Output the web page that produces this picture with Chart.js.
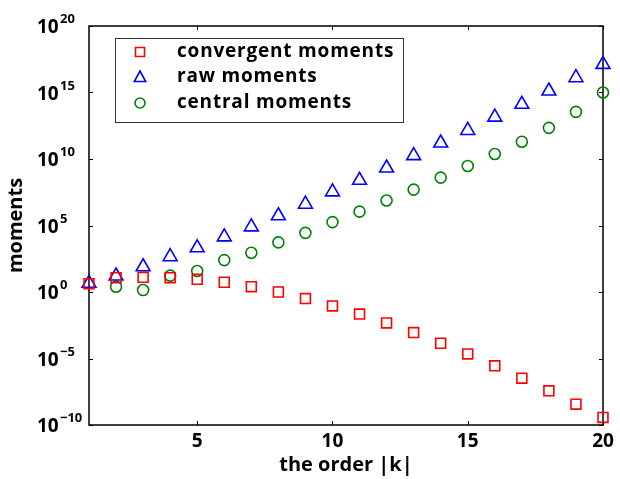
<!DOCTYPE html>
<html>
<head>
<meta charset="utf-8">
<script src="https://cdn.jsdelivr.net/npm/chart.js@4.4.1/dist/chart.umd.min.js"></script>
<style>
  html, body { margin: 0; padding: 0; background: #fff; }
  #wrap { width: 620px; height: 479px; }
</style>
</head>
<body>
<div id="wrap"><canvas id="moments-chart" width="620" height="479"></canvas></div>
<script>
// Moments versus order |k|
const order = [1, 2, 3, 4, 5, 6, 7, 8, 9, 10, 11, 12, 13, 14, 15, 16, 17, 18, 19, 20];
const convergentMoments = [4.2, 1.2e1, 1.26e1, 1.2e1, 8.9, 5.4, 2.5, 1.0, 3.2e-1, 8.9e-2,
	2.2e-2, 4.7e-3, 8.9e-4, 1.4e-4, 2.2e-5, 2.8e-6, 3.3e-7, 3.7e-8, 3.7e-9, 3.7e-10];
const rawMoments = [4.5, 1.6e1, 7.9e1, 4.5e2, 2.1e3, 1.4e4, 7.9e4, 5.4e5, 4.0e6, 3.4e7,
	2.5e8, 2.1e9, 1.8e10, 1.6e11, 1.4e12, 1.4e13, 1.3e14, 1.3e15, 1.3e16, 1.3e17];
const centralMoments = [null, 2.5, 1.4, 1.7e1, 3.8e1, 2.5e2, 8.9e2, 5.4e3, 2.8e4, 1.8e5,
	1.1e6, 7.6e6, 5.0e7, 4.0e8, 3.0e9, 2.4e10, 2.0e11, 2.2e12, 3.5e13, 1.0e15];
const seriesLabels = ["convergent moments", "raw moments", "central moments"];
const xTicks = [5, 10, 15, 20];
const yExponents = [-10, -5, 0, 5, 10, 15, 20];

const fontFamily = "'Open Sans', 'DejaVu Sans', sans-serif";
const seriesColors = ["#ff0000", "#0000ff", "#008000"];
const seriesStyles = ["rect", "triangle", "circle"];
const seriesRadius = [7, 8, 5.5];

const toPoints = function(values) {
	return order.map(function(k, i) { return { x: k, y: values[i] }; });
};

const makeDataset = function(i, values) {
	return {
		label: seriesLabels[i],
		data: toPoints(values),
		showLine: false,
		pointStyle: seriesStyles[i],
		pointRadius: seriesRadius[i],
		pointHoverRadius: seriesRadius[i],
		pointBorderWidth: 1.6,
		pointBorderColor: seriesColors[i],
		pointBackgroundColor: "rgba(0,0,0,0)",
		clip: false
	};
};

// frame with inward ticks on all four sides
const framePlugin = {
	id: "frame",
	beforeDatasetsDraw: function(chart) {
		const ctx = chart.ctx;
		const a = chart.chartArea;
		const xs = chart.scales.x;
		const ys = chart.scales.y;
		ctx.save();
		ctx.strokeStyle = "#000";
		ctx.lineWidth = 1;
		xTicks.forEach(function(t) {
			const px = Math.round(xs.getPixelForValue(t)) + 0.5;
			ctx.beginPath();
			ctx.moveTo(px, a.bottom); ctx.lineTo(px, a.bottom - 4);
			ctx.moveTo(px, a.top); ctx.lineTo(px, a.top + 4);
			ctx.stroke();
		});
		yExponents.forEach(function(e) {
			const py = Math.round(ys.getPixelForValue(Math.pow(10, e))) + 0.5;
			ctx.beginPath();
			ctx.moveTo(a.left, py); ctx.lineTo(a.left + 4, py);
			ctx.moveTo(a.right, py); ctx.lineTo(a.right - 4, py);
			ctx.stroke();
		});
		ctx.lineWidth = 1.5;
		ctx.strokeRect(a.left, a.top, a.right - a.left, a.bottom - a.top);
		ctx.restore();
	},
	afterDraw: function(chart) {
		const ctx = chart.ctx;
		const ys = chart.scales.y;
		ctx.save();
		ctx.fillStyle = "#000";
		ctx.textBaseline = "alphabetic";
		ctx.textAlign = "left";
		yExponents.forEach(function(e) {
			const py = ys.getPixelForValue(Math.pow(10, e));
			ctx.font = "bold 19px " + fontFamily;
			ctx.fillText("10", 37, py + 7);
			ctx.font = "bold 13px " + fontFamily;
			ctx.fillText(e < 0 ? "\u2212" + (-e) : String(e), 60, py - 3);
		});
		drawLegend(ctx);
		ctx.restore();
	}
};

const drawMarker = function(ctx, style, x, y, r) {
	ctx.beginPath();
	if (style === "rect") {
		ctx.rect(x - r, y - r, 2 * r, 2 * r);
	} else if (style === "triangle") {
		ctx.moveTo(x, y - r);
		ctx.lineTo(x + r * 0.95, y + r * 0.75);
		ctx.lineTo(x - r * 0.95, y + r * 0.75);
		ctx.closePath();
	} else {
		ctx.arc(x, y, r, 0, Math.PI * 2);
	}
	ctx.stroke();
};

const drawLegend = function(ctx) {
	ctx.lineWidth = 1;
	ctx.strokeStyle = "#333";
	ctx.strokeRect(115.5, 38.5, 288, 84);
	const rows = [52, 77, 103];
	const sizes = [4.5, 6, 5];
	ctx.font = "bold 19px " + fontFamily;
	ctx.letterSpacing = "0.8px";
	ctx.textBaseline = "middle";
	for (let i = 0; i < 3; i++) {
		ctx.strokeStyle = seriesColors[i];
		ctx.lineWidth = 1.6;
		drawMarker(ctx, seriesStyles[i], 140, rows[i], sizes[i]);
		ctx.fillStyle = "#000";
		ctx.fillText(seriesLabels[i], 177, rows[i]);
	}
	ctx.letterSpacing = "0px";
};

const chartConfig = {
	type: "scatter",
	data: {
		datasets: [
			makeDataset(0, convergentMoments),
			makeDataset(1, rawMoments),
			makeDataset(2, centralMoments)
		]
	},
	options: {
		responsive: false,
		animation: false,
		layout: { padding: { left: 0, right: 17, top: 26, bottom: 0 } },
		plugins: {
			legend: { display: false },
			tooltip: { enabled: false }
		},
		scales: {
			x: {
				type: "linear",
				min: 1,
				max: 20,
				afterBuildTicks: function(s) { s.ticks = xTicks.map(function(v) { return { value: v }; }); },
				afterFit: function(s) { s.height = 54; },
				grid: { display: false, drawTicks: false },
				border: { display: false },
				ticks: {
					padding: 5,
					color: "#000",
					font: { family: fontFamily, size: 19, weight: "bold" },
					maxRotation: 0
				},
				title: {
					display: true,
					text: "the order |k|",
					color: "#000",
					padding: { top: 0, bottom: 2 },
					font: { family: fontFamily, size: 20, weight: "bold" }
				}
			},
			y: {
				type: "logarithmic",
				min: 1e-10,
				max: 1e20,
				afterFit: function(s) { s.width = 89; },
				grid: { display: false, drawTicks: false },
				border: { display: false },
				ticks: { display: false },
				title: {
					display: true,
					text: "moments",
					color: "#000",
					padding: { top: 4, bottom: 0 },
					font: { family: fontFamily, size: 20, weight: "bold" }
				}
			}
		}
	},
	plugins: [framePlugin]
};

new Chart(document.getElementById("moments-chart"), chartConfig);
</script>
</body>
</html>
